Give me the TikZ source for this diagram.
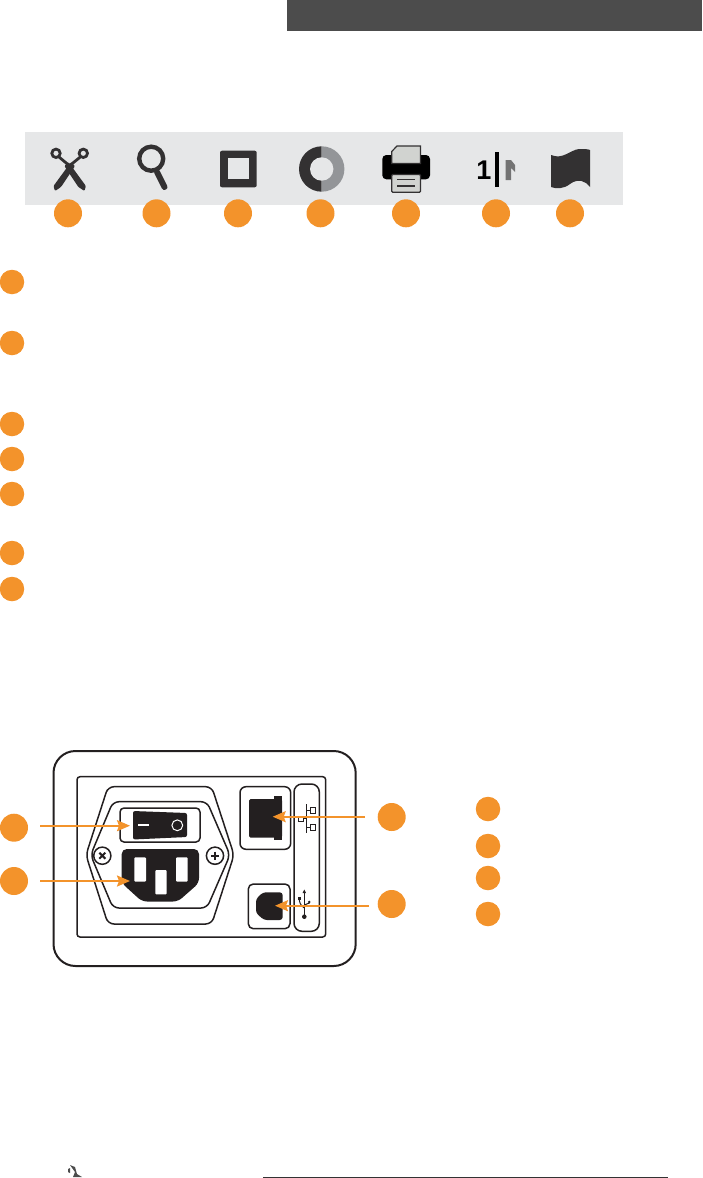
\documentclass[tikz,border=0pt]{standalone}
\usepackage{fontspec}
\setsansfont{Liberation Sans}
\usepackage{xcolor}
\usetikzlibrary{arrows.meta}
\definecolor{dot}{HTML}{F3932B}
\definecolor{band}{HTML}{E6E7E8}
\definecolor{ink}{HTML}{231F20}
\definecolor{icon}{HTML}{333132}
\definecolor{midgrey}{HTML}{939598}
\definecolor{paper}{HTML}{D1D3D0}
\begin{document}
\begin{tikzpicture}[x=1pt,y=-1pt,
  bigdot/.style={circle,fill=dot,minimum size=28pt,inner sep=0pt},
  listdot/.style={circle,fill=dot,minimum size=24.5pt,inner sep=0pt},
  ptr/.style={draw=dot,line width=2pt,-{Stealth[length=13pt,width=11pt,inset=2pt]}},
  ln/.style={draw=ink,line width=1.5pt},
  fin/.style={draw=ink,line width=1pt}]
  \useasboundingbox (0,0) rectangle (702,1178);

  % header and toolbar
  \fill[fill=black!70] (287,0) rectangle (702,31);
  \fill[band] (25,132) rectangle (623,205);

  % scissors
  \draw[icon,line width=2.8pt] (56,153.3) circle[radius=4.2];
  \draw[icon,line width=2.8pt] (83.3,153.3) circle[radius=4.2];
  \draw[icon,line width=2.8pt] (59,157) -- (71,167);
  \draw[icon,line width=2.8pt] (80.3,157) -- (68,167);
  \fill[icon,rounded corners=1pt] (71,162) -- (75,166) -- (61,187) -- (55,191) -- (53.5,186) -- cycle;
  \fill[icon,rounded corners=1pt] (68.4,162) -- (64.4,166) -- (78.4,187) -- (84.4,191) -- (85.9,186) -- cycle;

  % magnifier
  \draw[icon,line width=4.4pt] (151.2,158.7) circle[radius=12];
  \draw[icon,line width=6pt,line cap=round] (157,172) -- (164.5,187);

  % square
  \fill[icon,rounded corners=2pt] (220,150.7) rectangle (256.7,187.3);
  \fill[band] (228,158.3) rectangle (249,179.3);

  % donut
  \fill[icon] (321.7,146.3) arc[start angle=-90,end angle=-270,radius=22.7] -- cycle;
  \fill[midgrey] (321.7,146.3) arc[start angle=-90,end angle=90,radius=22.7] -- cycle;
  \fill[band] (321.7,169) circle[radius=11.7];

  % printer
  \fill[black,rounded corners=4pt] (382.3,155) rectangle (430,179.3);
  \filldraw[fill=paper,draw=icon,line width=1.2pt] (397,146) -- (420.5,146) -- (420.5,163.5) -- (391.7,163.5) -- (391.7,151.5) -- cycle;
  \filldraw[fill=paper,draw=icon,line width=1.2pt,rounded corners=1pt] (391.7,174.5) rectangle (420.5,192.2);
  \draw[icon,line width=1.7pt] (397.3,179.6) -- (415,179.6);
  \draw[icon,line width=1.7pt] (397.3,186) -- (415,186);

  % copies
  \node[inner sep=0pt,font=\sffamily\bfseries\fontsize{27}{27}\selectfont,text=black] (one) at (484,170.5) {1};
  \fill[black] (495,151.7) rectangle (499,187.3);
  \fill[black!55] (505.7,180) -- (505.7,160) -- (511,160) -- (515,165) -- (515,172) -- (511,168) -- (511,180) -- cycle;

  % flag
  \fill[icon] (551,155) .. controls (563,160) and (570,150) .. (579,149) .. controls (584,149) and (588,149) .. (590,150) -- (590,187) .. controls (586,181) and (578,178) .. (570,184) .. controls (564,189) and (556,189) .. (551,187) -- cycle;

  % toolbar dots
  \node[bigdot] (t1) at (68,213.3) {};
  \node[bigdot] (t2) at (156.5,213.3) {};
  \node[bigdot] (t3) at (238,213.3) {};
  \node[bigdot] (t4) at (320.5,213.3) {};
  \node[bigdot] (t5) at (406,213.3) {};
  \node[bigdot] (t6) at (496,213.3) {};
  \node[bigdot] (t7) at (570,213.3) {};

  % list dots
  \node[listdot] (l1) at (12,282) {};
  \node[listdot] (l2) at (12,343) {};
  \node[listdot] (l3) at (12,424) {};
  \node[listdot] (l4) at (12,459) {};
  \node[listdot] (l5) at (12,494) {};
  \node[listdot] (l6) at (12,553) {};
  \node[listdot] (l7) at (12,589) {};

  % panel
  \draw[ln,line width=2pt,rounded corners=22pt] (53.5,751) rectangle (355.7,966);
  \draw[ln,rounded corners=3pt] (77,776.7) rectangle (325.7,937);
  \draw[ln,rounded corners=6pt] (108,786.7) -- (211.7,786.7) -- (234,855) -- (211.7,924) -- (108,924) -- (86,855) -- cycle;
  \draw[ln,rounded corners=6pt] (113,801.7) -- (207,801.7) -- (230,855) -- (207,908) -- (113,908) -- (90.7,855) -- cycle;

  % rocker
  \draw[ln,fill=white,rounded corners=4pt] (120,808) rectangle (200,842);
  \fill[ink,rounded corners=2pt] (133,811) -- (187,813) -- (187,837) -- (133,839.5) -- cycle;
  \draw[white,line width=1.6pt] (138,824.7) -- (149,824.7);
  \draw[white,line width=1pt] (177.3,825.3) circle[radius=5.4];

  % screws
  \draw[ln,fill=white] (102.3,855.7) circle[radius=8.6];
  \draw[ink,line width=2pt] (99.3,852.7) -- (105.3,858.7) (105.3,852.7) -- (99.3,858.7);
  \draw[ln,fill=white] (215,855.7) circle[radius=8.6];
  \draw[ink,line width=2pt] (215,851.5) -- (215,860) (210.8,855.7) -- (219.2,855.7);

  % inlet
  \fill[ink,rounded corners=5pt] (121.7,849) -- (199,849) -- (199,883) -- (178,901.5) -- (142,901.5) -- (121.7,883) -- cycle;
  \fill[white,rounded corners=1pt] (134.3,857.3) rectangle (146,881.7);
  \fill[white,rounded corners=1pt] (155.3,870) rectangle (166.7,894.3);
  \fill[white,rounded corners=1pt] (176,857.3) rectangle (187.7,881.7);

  % lan jack
  \draw[ln,rounded corners=6pt] (240,786.7) rectangle (290.7,849.3);
  \fill[ink,rounded corners=1.5pt] (249,799) rectangle (282,837.7);
  \fill[ink] (274,796) rectangle (282,840);

  % usb jack
  \draw[ln,rounded corners=5pt] (248.3,884) rectangle (290,928.7);
  \fill[ink,rounded corners=3pt] (263,892.3) -- (282.7,892.3) -- (282.7,920) -- (264,920) -- (256,913) -- (256,899) -- cycle;

  % strip with symbols
  \draw[ln,rounded corners=8pt] (294,784) rectangle (319.3,931.3);
  \draw[fin] (306,804) -- (306,832.7);
  \draw[fin] (303.3,818.7) -- (306,818.7);
  \draw[fin] (306,810.3) -- (310.7,810.3);
  \draw[fin] (306,827) -- (310.7,827);
  \draw[fin] (310.7,807.3) rectangle (315.7,813.3);
  \draw[fin] (310.7,824) rectangle (315.7,830);
  \draw[fin] (298.7,816) rectangle (303.3,821.3);
  \draw[fin] (304.3,892) -- (304.3,915);
  \fill[ink] (304.3,889.5) -- (306,893) -- (302.6,893) -- cycle;
  \fill[ink] (304.3,916.7) circle[radius=2.3];
  \draw[fin] (304.3,908) .. controls (300,905) and (299.3,902) .. (299.3,898.3);
  \draw[fin] (304.3,905) -- (309.3,903) -- (309.3,901);
  \fill[ink] (297.8,896.8) rectangle (300.8,899.8);
  \fill[ink] (309.3,902) circle[radius=1.4];

  % pointers
  \coordinate (p1a) at (40,825.7);
  \coordinate (p1b) at (130,825.7);
  \coordinate (p2a) at (40,881);
  \coordinate (p2b) at (130,881);
  \coordinate (p3a) at (365,816.7);
  \coordinate (p3b) at (272.7,816.7);
  \coordinate (p4a) at (369,905.7);
  \coordinate (p4b) at (275,905.7);
  \draw[ptr] (p1a) -- (p1b);
  \draw[ptr] (p2a) -- (p2b);
  \draw[ptr] (p3a) -- (p3b);
  \draw[ptr] (p4a) -- (p4b);

  % panel dots
  \node[bigdot] (r1) at (14,827.7) {};
  \node[bigdot] (r2) at (14,881) {};
  \node[bigdot] (r3) at (391.7,817) {};
  \node[bigdot] (r4) at (391.7,904) {};
  \node[listdot] (k1) at (488,809) {};
  \node[listdot] (k2) at (488,846) {};
  \node[listdot] (k3) at (488,878) {};
  \node[listdot] (k4) at (488,914) {};

  % footer
  \fill[black!70] (70,1165) -- (75,1167) -- (77,1174) -- (82,1177) -- (73,1177) -- (75,1172) -- cycle;
  \fill[black!70] (68,1169) -- (70,1168) -- (70,1173) -- (68,1172) -- cycle;
  \coordinate (f1) at (263,1177);
  \coordinate (f2) at (668,1177);
  \draw[black!80,line width=1pt] (f1) -- (f2);
\end{tikzpicture}
\end{document}
